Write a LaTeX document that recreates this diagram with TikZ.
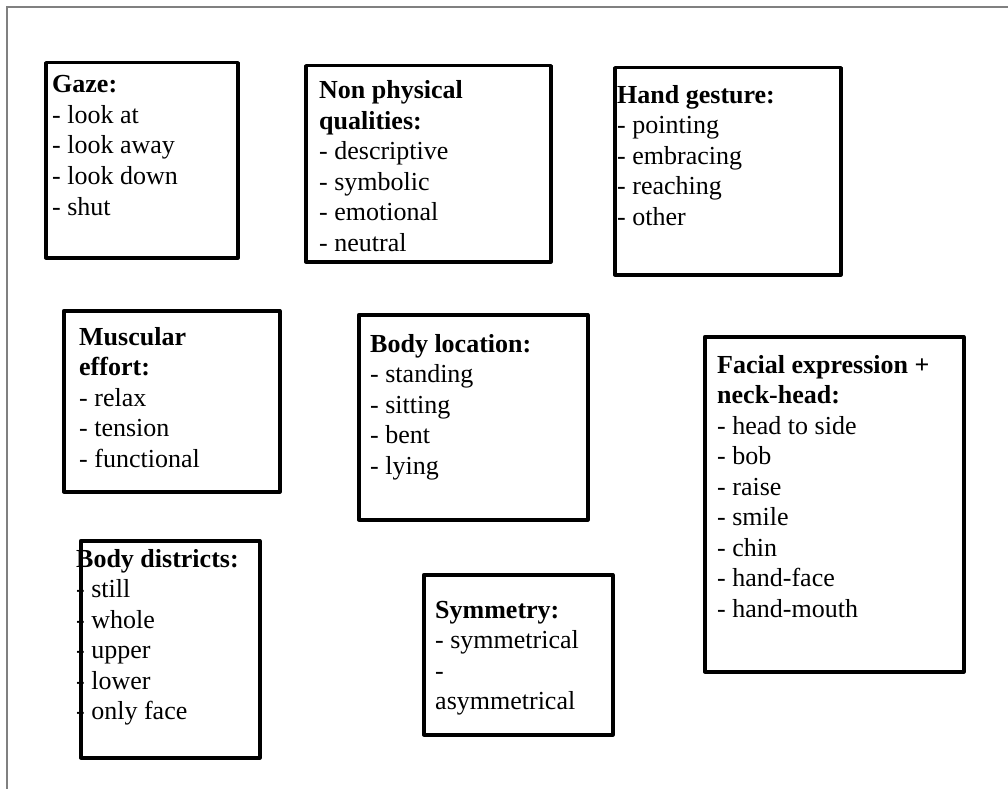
\documentclass[tikz,border=0pt]{standalone}
\usepackage{fontspec}
\setmainfont{Liberation Serif}
\begin{document}
\begin{tikzpicture}[x=1pt,y=-1pt,
  catbox/.style={draw=black,line width=3.5pt,line join=round},
  cattext/.style={anchor=base west,inner sep=0pt,font=\fontsize{26pt}{30.5pt}\selectfont},
  frameline/.style={draw=black!50,line width=2pt}]
\useasboundingbox (0,0) rectangle (1008,789);
\coordinate (ftl) at (7,7);
\coordinate (ftr) at (1008,7);
\coordinate (fbl) at (7,789);
\draw[frameline] (ftr) -- (ftl) -- (fbl);
% texts
\node[cattext] (gazeT) at (52,93) {\parbox[t]{180pt}{\raggedright\textbf{Gaze:}\\- look at\\- look away\\- look down\\- shut}};
\node[cattext] (nonphysT) at (319,99) {\parbox[t]{220pt}{\raggedright\textbf{Non physical}\\\textbf{qualities:}\\- descriptive\\- symbolic\\- emotional\\- neutral}};
\node[cattext] (handT) at (617,103) {\parbox[t]{220pt}{\raggedright\textbf{Hand gesture:}\\- pointing\\- embracing\\- reaching\\- other}};
\node[cattext] (muscleT) at (79,345) {\parbox[t]{190pt}{\raggedright\textbf{Muscular}\\\textbf{effort:}\\- relax\\- tension\\- functional}};
\node[cattext] (bodylocT) at (370,352) {\parbox[t]{210pt}{\raggedright\textbf{Body location:}\\- standing\\- sitting\\- bent\\- lying}};
\node[cattext] (facialT) at (717,373) {\parbox[t]{240pt}{\raggedright\textbf{Facial expression +}\\\textbf{neck-head:}\\- head to side\\- bob\\- raise\\- smile\\- chin\\- hand-face\\- hand-mouth}};
\node[cattext] (districtsT) at (76,567) {\parbox[t]{180pt}{\raggedright\textbf{Body districts:}\\- still\\- whole\\- upper\\- lower\\- only face}};
\node[cattext] (symmetryT) at (435,618) {\parbox[t]{180pt}{\raggedright\textbf{Symmetry:}\\- symmetrical\\-\\asymmetrical}};
% boxes
\node[catbox,fit/.style={},anchor=north west,inner sep=0pt,minimum width=192pt,minimum height=195pt] (gaze) at (44,61) {};
\node[catbox,anchor=north west,inner sep=0pt,minimum width=245pt,minimum height=196pt] (nonphys) at (304,64) {};
\node[catbox,anchor=north west,inner sep=0pt,minimum width=226pt,minimum height=207pt] (hand) at (613,66) {};
\node[catbox,anchor=north west,inner sep=0pt,minimum width=216pt,minimum height=181pt] (muscle) at (62,309) {};
\node[catbox,anchor=north west,inner sep=0pt,minimum width=229pt,minimum height=205pt] (bodyloc) at (357,313) {};
\node[catbox,anchor=north west,inner sep=0pt,minimum width=259pt,minimum height=335pt] (facial) at (703,335) {};
\node[catbox,anchor=north west,inner sep=0pt,minimum width=179pt,minimum height=217pt] (districts) at (79,539) {};
\node[catbox,anchor=north west,inner sep=0pt,minimum width=189pt,minimum height=160pt] (symmetry) at (422,573) {};
\end{tikzpicture}
\end{document}
